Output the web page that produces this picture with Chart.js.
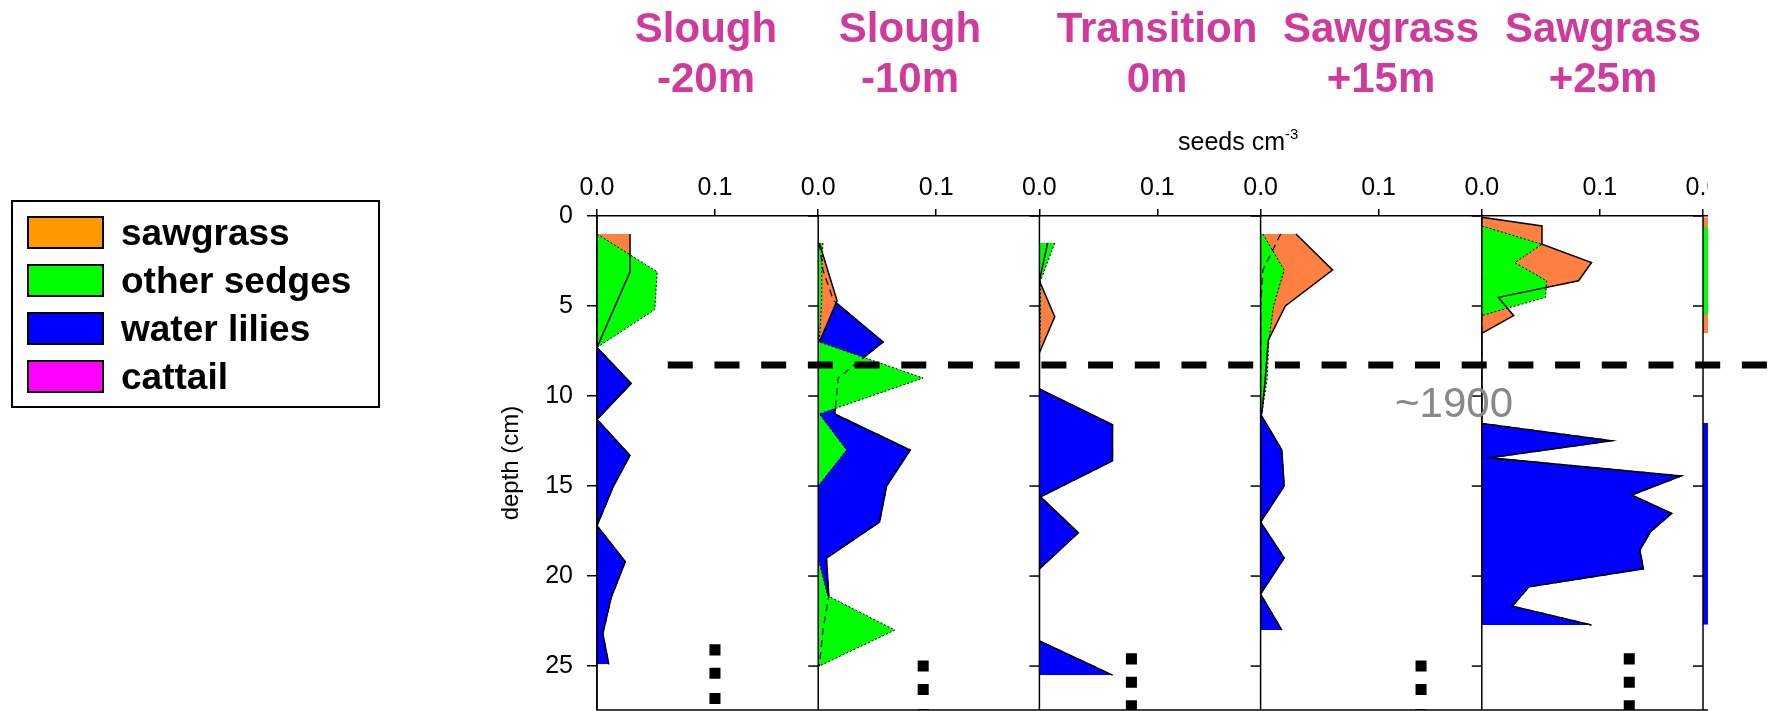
<!DOCTYPE html>
<html>
<head>
<meta charset="utf-8">
<title>Seed profiles along the slough - sawgrass transect</title>
<script src="https://cdn.jsdelivr.net/npm/chart.js@4.4.1/dist/chart.umd.min.js"></script>
<style>
  body { margin: 0; width: 1776px; height: 711px; overflow: hidden; background: #fff; position: relative;
         font-family: "Liberation Sans", Arial, sans-serif; }
  #seeds { position: absolute; left: 0; top: 0; }
  .site { position: absolute; top: 3px; width: 300px; margin-left: -150px; text-align: center;
          color: #cf3a9b; font-weight: bold; font-size: 42px; line-height: 50px; }
  #legend { position: absolute; left: 11px; top: 200px; width: 365px; height: 204px; border: 2px solid #000; }
  .item { position: absolute; left: 14px; height: 33px; }
  .swatch { position: absolute; left: 0; top: 0; width: 73px; height: 29px; border: 2px solid #000; }
  .name { position: absolute; left: 94px; top: 0; font-size: 37px; line-height: 33px; font-weight: bold; white-space: nowrap; }
  #unit { position: absolute; left: 1178px; top: 126px; font-size: 25px; line-height: 30px; white-space: nowrap; }
  #unit span { font-size: 15px; position: relative; top: -11px; }
</style>
</head>
<body>
<canvas id="seeds" width="1940" height="711"></canvas>
<div id="titles"></div>
<div id="legend"></div>
<div id="unit">seeds cm<span>-3</span></div>
<script>
// legend / site names
const taxa = ['sawgrass', 'other sedges', 'water lilies', 'cattail'];
const legendColors = ['#ff9900', '#00ff00', '#0000ff', '#ff00ff'];
const siteNames = ['Slough', 'Slough', 'Transition', 'Sawgrass', 'Sawgrass'];
const siteOffsets = ['-20m', '-10m', '0m', '+15m', '+25m'];
const depthTicks = [0, 5, 10, 15, 20, 25];
const seedTicks = [0.0, 0.1];
const horizonLabel = '~1900';
const horizonDepth = 8.28;

// Slough -20m
const depth1 = [1.0, 3.1, 5.2, 7.3, 9.3, 11.3, 13.3, 15.0, 17.2, 19.2, 21.2, 23.2, 24.9];
const saw1 = [0.028, 0.028, 0.014, 0, null, null, null, null, null, null, null, null, null];
const sed1 = [0, 0.051, 0.049, 0, null, null, null, null, null, null, null, null, null];
const lil1 = [0, 0, 0, 0, 0.029, 0, 0.028, 0.014, 0, 0.024, 0.012, 0.005, 0.010];

// Slough -10m
const depth2 = [1.5, 3.0, 4.7, 7.0, 9.0, 11.0, 13.0, 15.0, 17.0, 19.0, 21.1, 23.0, 25.0];
const saw2 = [0.001, 0.008, 0.016, 0.001, null, null, null, null, null, null, null, null, null];
const sed2 = [0.004, 0.003, 0.003, 0.001, 0.089, 0.001, 0.024, 0, 0, 0, 0.008, 0.065, 0.001];
const lil2 = [0.001, 0.004, 0.013, 0.055, 0.017, 0.014, 0.078, 0.058, 0.052, 0.007, 0.009, 0.004, 0.001];

// Transition 0m
const depth3 = [1.5, 3.6, 5.6, 7.6, 9.6, 11.6, 13.6, 15.6, 17.6, 19.6, 21.6, 23.6, 25.5];
const saw3 = [0.007, 0, 0.013, 0, null, null, null, null, null, null, null, null, null];
const sed3 = [0.013, 0.001, 0.001, 0, null, null, null, null, null, null, null, null, null];
const lil3 = [0, 0, 0, 0, 0, 0.062, 0.062, 0.001, 0.033, 0, 0, 0, 0.062];

// Sawgrass +15m
const depth4 = [1.0, 3.0, 5.0, 6.9, 9.0, 11.0, 13.0, 15.0, 17.0, 19.0, 21.0, 23.0];
const saw4 = [0.030, 0.061, 0.021, 0.0065, 0.004, 0.001, null, null, null, null, null, null];
const sed4 = [0.002, 0.020, 0.011, 0.007, 0.0056, 0.001, null, null, null, null, null, null];
const lil4 = [0.017, 0.002, 0, 0, 0, 0, 0.018, 0.020, 0, 0.020, 0, 0.018];

// Sawgrass +25m
const depth5 = [0.07, 0.55, 1.57, 2.59, 3.6, 4.52, 5.53, 6.52, 11.52, 12.48, 13.43, 14.44, 15.5, 16.52, 17.54, 18.56, 19.6, 20.6, 21.67, 22.72];
const saw5 = [0, 0.051, 0.051, 0.093, 0.082, 0.014, 0.027, 0, null, null, null, null, null, null, null, null, null, null, null, null];
const sed5 = [null, 0, 0.051, 0.028, 0.055, 0.054, 0, null, null, null, null, null, null, null, null, null, null, null, null, null];
const lil5 = [0, 0, 0, 0, 0, 0, 0, 0, 0, 0.110, 0.007, 0.169, 0.127, 0.161, 0.143, 0.134, 0.137, 0.040, 0.026, 0.093];

// next core, cut off at the right edge of the figure
const depth6 = [0.07, 0.6, 5.5, 6.5, 11.5, 22.7];
const saw6 = [0.006, 0.006, 0.006, 0.006, null, null];
const sed6 = [null, 0.006, 0.006, null, null, null];
const lil6 = [null, null, null, null, 0.006, 0.006];

// "core continues" markers
const gapX = [0.100, 0.089, 0.078, 0.136, 0.125];
const gapDepths = [[24.1, 25.4, 26.8], [25.0, 26.3, 27.7], [24.6, 25.9, 27.2], [25.0, 26.3, 27.7], [24.6, 25.9, 27.2]];

const panels = [
  {depth: depth1, saw: saw1, sed: sed1, lil: lil1},
  {depth: depth2, saw: saw2, sed: sed2, lil: lil2},
  {depth: depth3, saw: saw3, sed: sed3, lil: lil3},
  {depth: depth4, saw: saw4, sed: sed4, lil: lil4},
  {depth: depth5, saw: saw5, sed: sed5, lil: lil5},
  {depth: depth6, saw: saw6, sed: sed6, lil: lil6}
];

// ---- layout ----
const FONT = '"Liberation Sans", Arial, sans-serif';
const titleCenters = [706, 910, 1157, 1381, 1603];
const fillColors = {saw: '#ff8040', sed: '#00ff00', lil: '#0000ff'};
const cutValue = 0.0042;   // figure is cropped just right of the 6th core axis
const horizonStart = 0.06;
const labelAt = {x: 0.114, depth: 11.17};

siteNames.forEach((n, i) => {
  const d = document.createElement('div');
  d.className = 'site';
  d.style.left = titleCenters[i] + 'px';
  d.innerHTML = n + '<br>' + siteOffsets[i];
  document.getElementById('titles').appendChild(d);
});

taxa.forEach((t, i) => {
  const it = document.createElement('div');
  it.className = 'item';
  it.style.top = (14 + i * 48) + 'px';
  it.innerHTML = '<div class="swatch" style="background:' + legendColors[i] + '"></div><div class="name">' + t + '</div>';
  document.getElementById('legend').appendChild(it);
});

const pts = (depths, vals) => depths.map((d, i) => ({x: vals[i], y: d}));

const datasets = [];
panels.forEach((p, i) => {
  const base = {xAxisID: 'x' + (i + 1), yAxisID: 'y', pointRadius: 0, tension: 0};
  datasets.push(
    {...base, label: taxa[2], data: pts(p.depth, p.lil), order: 5, fill: 'origin',
     backgroundColor: fillColors.lil, borderColor: '#000', borderWidth: 1.5},
    {...base, label: taxa[0], data: pts(p.depth, p.saw), order: 4, fill: 'origin',
     backgroundColor: fillColors.saw, borderColor: 'rgba(0,0,0,0)', borderWidth: 0},
    {...base, label: taxa[1], data: pts(p.depth, p.sed), order: 3, fill: 'origin',
     backgroundColor: fillColors.sed, borderColor: '#000', borderWidth: 1, borderDash: [2, 2]},
    {...base, label: taxa[0] + ' line', data: pts(p.depth, p.saw), order: 2, fill: false,
     borderColor: '#000', borderWidth: 1.5},
    {...base, label: taxa[2] + ' line', data: pts(p.depth, p.lil), order: 1, fill: false,
     borderColor: '#000', borderWidth: 1.2, borderDash: [7, 5]}
  );
});
gapX.forEach((gx, i) => {
  datasets.push({
    type: 'scatter', xAxisID: 'x' + (i + 1), yAxisID: 'y', order: 0,
    data: gapDepths[i].map(d => ({x: gx, y: d})),
    pointStyle: 'rect', pointRadius: 7.8, backgroundColor: '#000', borderWidth: 0, showLine: false
  });
});

const scales = {
  y: {
    type: 'linear', position: 'left', reverse: true, min: 0, max: 27.44,
    afterFit: s => { s.width = 110; s.paddingTop = 0; s.paddingBottom = 0; },
    afterBuildTicks: s => { s.ticks = depthTicks.map(v => ({value: v})); },
    ticks: {color: '#000', font: {family: FONT, size: 25}, padding: 14},
    grid: {drawOnChartArea: false, color: '#000', lineWidth: 1.5, tickLength: 10},
    border: {color: '#000', width: 1.5},
    title: {display: true, text: 'depth (cm)', color: '#000', font: {family: FONT, size: 24}, padding: {top: 10, bottom: 0}}
  }
};
for (let i = 1; i <= panels.length; i++) {
  scales['x' + i] = {
    type: 'linear', position: 'top', stack: 'cores', stackWeight: 1,
    weight: panels.length + 1 - i,   // top boxes are placed by descending weight
    min: 0, max: 0.1875,
    afterFit: s => { s.height = 60; },
    afterBuildTicks: s => { s.ticks = seedTicks.map(v => ({value: v})); },
    ticks: {color: '#000', font: {family: FONT, size: 25}, padding: 6, autoSkip: false, maxRotation: 0,
            callback: v => v.toFixed(1)},
    grid: {drawOnChartArea: false, color: '#000', lineWidth: 1.5, tickLength: 7},
    border: {color: '#000', width: 1.5}
  };
}

const framePlugin = {
  id: 'frame',
  afterDatasetsDraw(chart) {
    const {ctx, chartArea: a, scales: s} = chart;
    ctx.save();
    ctx.strokeStyle = '#000';
    ctx.lineWidth = 1.5;
    for (let i = 1; i <= panels.length; i++) {
      const x0 = s['x' + i].getPixelForValue(0);
      ctx.beginPath(); ctx.moveTo(x0, a.top); ctx.lineTo(x0, a.bottom); ctx.stroke();
      if (i > 1) {
        depthTicks.forEach(d => {
          const y = s.y.getPixelForValue(d);
          ctx.beginPath(); ctx.moveTo(x0 - 10, y); ctx.lineTo(x0, y); ctx.stroke();
        });
      }
    }
    ctx.beginPath(); ctx.moveTo(a.left, a.bottom); ctx.lineTo(a.right, a.bottom); ctx.stroke();
    ctx.restore();
  },
  afterDraw(chart) {
    const {ctx, scales: s} = chart;
    ctx.save();
    // crop of the original figure
    const cx = s['x' + panels.length].getPixelForValue(cutValue);
    ctx.fillStyle = '#fff';
    ctx.fillRect(cx, 0, chart.width - cx, chart.height);
    // ~1900 horizon
    const hy = s.y.getPixelForValue(horizonDepth);
    ctx.strokeStyle = '#000';
    ctx.lineWidth = 7;
    ctx.setLineDash([25, 21.7]);
    ctx.beginPath(); ctx.moveTo(s.x1.getPixelForValue(horizonStart), hy); ctx.lineTo(chart.width, hy); ctx.stroke();
    ctx.setLineDash([]);
    ctx.fillStyle = '#888';
    ctx.font = '42px ' + FONT;
    ctx.textBaseline = 'alphabetic';
    ctx.fillText(horizonLabel, s.x4.getPixelForValue(labelAt.x), s.y.getPixelForValue(labelAt.depth));
    ctx.restore();
  }
};

new Chart(document.getElementById('seeds'), {
  type: 'line',
  data: {datasets},
  options: {
    responsive: false,
    animation: false,
    events: [],
    indexAxis: 'y',
    layout: {autoPadding: false, padding: {left: 487, top: 156, right: 15.8, bottom: 1}},
    scales,
    plugins: {legend: {display: false}, tooltip: {enabled: false}}
  },
  plugins: [framePlugin]
});
</script>
</body>
</html>
